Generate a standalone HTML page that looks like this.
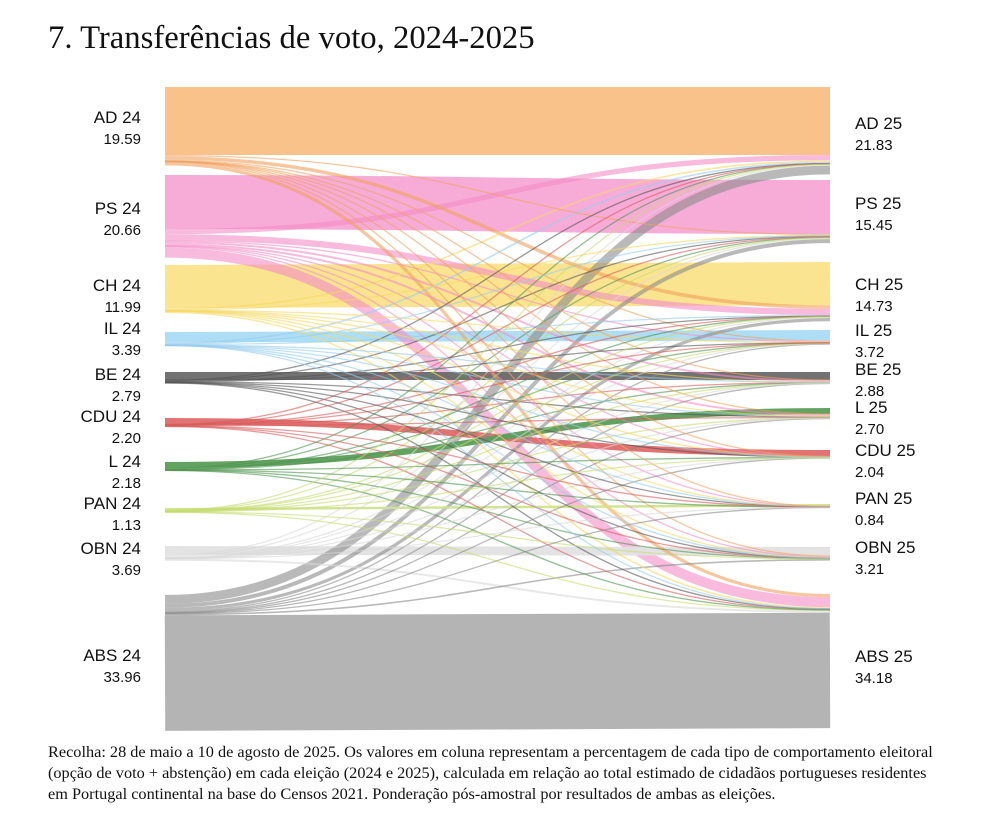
<!DOCTYPE html>
<html><head><meta charset="utf-8"><style>
body{margin:0;background:#fff;width:1000px;height:827px;overflow:hidden;font-family:"Liberation Sans",sans-serif}
#title{position:absolute;left:48px;top:20px;font-family:"Liberation Serif",serif;font-size:32.7px;color:#111}
#caption{position:absolute;left:48px;top:741px;width:950px;white-space:nowrap;font-family:"Liberation Serif",serif;font-size:16.3px;line-height:21px;color:#111}
svg{position:absolute;left:0;top:0}
</style></head><body>
<div id="title">7. Transferências de voto, 2024-2025</div>
<svg id="chart" width="1000" height="740"></svg>
<div id="caption">Recolha: 28 de maio a 10 de agosto de 2025. Os valores em coluna representam a percentagem de cada tipo de comportamento eleitoral<br>(opção de voto + abstenção) em cada eleição (2024 e 2025), calculada em relação ao total estimado de cidadãos portugueses residentes<br>em Portugal continental na base do Censos 2021. Ponderação pós-amostral por resultados de ambas as eleições.</div>
<script>
const leftNames=["AD 24","PS 24","CH 24","IL 24","BE 24","CDU 24","L 24","PAN 24","OBN 24","ABS 24"];
const leftValues=["19.59","20.66","11.99","3.39","2.79","2.20","2.18","1.13","3.69","33.96"];
const rightNames=["AD 25","PS 25","CH 25","IL 25","BE 25","L 25","CDU 25","PAN 25","OBN 25","ABS 25"];
const rightValues=["21.83","15.45","14.73","3.72","2.88","2.70","2.04","0.84","3.21","34.18"];
const leftColors=["#f9bf84","#f7a8d6","#fbe38a","#a9dcf5","#6a6a6a","#e06b6b","#5a9e5a","#cfe38a","#e2e2e2","#a8a8a8"];
const crossColors=["#f0a25e","#f48cc6","#f5d860","#96cdee","#555555","#d85a5a","#4e944e","#c4dc70","#d8d8d8","#8a8a8a"];
const flowAD =[17.0,0.3,0.9,0.3,0.05,0.05,0.02,0.02,0.15,0.8];
const flowPS =[1.3,13.5,1.6,0.2,0.5,0.5,0.15,0.1,0.3,2.5];
const flowCH =[0.4,0.1,10.8,0.1,0.03,0.03,0.03,0.03,0.1,0.37];
const flowIL =[0.4,0.05,0.2,2.6,0.02,0.05,0.01,0.01,0.03,0.02];
const flowBE =[0.05,0.2,0.05,0.05,2.0,0.2,0.05,0.02,0.07,0.1];
const flowCDU=[0.05,0.1,0.05,0.01,0.08,0.1,1.6,0.01,0.05,0.15];
const flowL  =[0.1,0.2,0.05,0.05,0.07,1.5,0.03,0.03,0.05,0.1];
const flowPAN=[0.05,0.1,0.05,0.02,0.05,0.08,0.01,0.6,0.05,0.12];
const flowOBN=[0.3,0.2,0.3,0.05,0.03,0.05,0.03,0.01,2.2,0.51];
const flowABS=[2.2,1.0,0.8,0.3,0.1,0.15,0.1,0.05,0.4,28.86];
const flows=[flowAD,flowPS,flowCH,flowIL,flowBE,flowCDU,flowL,flowPAN,flowOBN,flowABS];
const sameTarget=[0,1,2,3,4,6,5,7,8,9];

const svg=document.getElementById('chart');
const NS='http://www.w3.org/2000/svg';
const K=4, X0=165, X1=830;
const leftTop=[87,175,265,332,372,418,462,508,546,595];
const rightTop=[87,180,262,330,372,408,450,504,547,594];
const leftLabelY=[117,208,285,328,374,416,461,503,548,655];
const rightLabelY=[123,203,284,330,369,407,450,498,547,656];
function sc(v){return v*K;}
function order(src){
  const idx=[...Array(10).keys()];
  if(src!==9){idx.splice(idx.indexOf(sameTarget[src]),1);idx.unshift(sameTarget[src]);}
  return idx;
}
const segs=[];
const rightStart={};
for(let t=0;t<10;t++){
  let srcs=[...Array(10).keys()];
  const same=sameTarget.indexOf(t);
  if(t!==9){srcs.splice(srcs.indexOf(same),1);srcs.unshift(same);}
  let y=rightTop[t];
  srcs.forEach(s=>{rightStart[s+'_'+t]=y;y+=sc(flows[s][t]);});
}
for(let s=0;s<10;s++){
  let y=leftTop[s];
  order(s).forEach(t=>{
    const v=flows[s][t];const w=sc(v);
    segs.push({s,t,v,y0:y+w/2,y1:rightStart[s+'_'+t]+w/2,w});
    y+=w;
  });
}
segs.sort((a,b)=>b.w-a.w);
segs.forEach(g=>{
  const p=document.createElementNS(NS,'path');
  const xm=(X0+X1)/2;
  p.setAttribute('d',`M${X0},${g.y0} C${xm},${g.y0} ${xm},${g.y1} ${X1},${g.y1}`);
  const same=sameTarget[g.s]===g.t;
  p.setAttribute('stroke',same?(g.s===9?'#b0b0b0':leftColors[g.s]):crossColors[g.s]);
  p.setAttribute('stroke-width',Math.max(1.3,g.w));
  p.setAttribute('fill','none');
  p.setAttribute('opacity',same?0.95:0.6);
  
  
  svg.appendChild(p);
});
function label(x,y,name,val,anchor,dn){
  const g=document.createElementNS(NS,'g');
  
  
  const a=document.createElementNS(NS,'text');
  a.setAttribute('x',x);a.setAttribute('y',y);a.setAttribute('text-anchor',anchor);
  a.setAttribute('font-size','17');a.setAttribute('fill','#111');a.textContent=name;
  const b=document.createElementNS(NS,'text');
  b.setAttribute('x',x);b.setAttribute('y',y+21);b.setAttribute('text-anchor',anchor);
  b.setAttribute('font-size','15');b.setAttribute('fill','#111');b.textContent=val;
  g.appendChild(a);g.appendChild(b);svg.appendChild(g);
}
for(let i=0;i<10;i++){
  label(141,leftLabelY[i]+6,leftNames[i],leftValues[i],'end','left-label-'+leftNames[i].replace(' ','-').toLowerCase());
  label(855,rightLabelY[i]+6,rightNames[i],rightValues[i],'start','right-label-'+rightNames[i].replace(' ','-').toLowerCase());
}
</script>
</body></html>
